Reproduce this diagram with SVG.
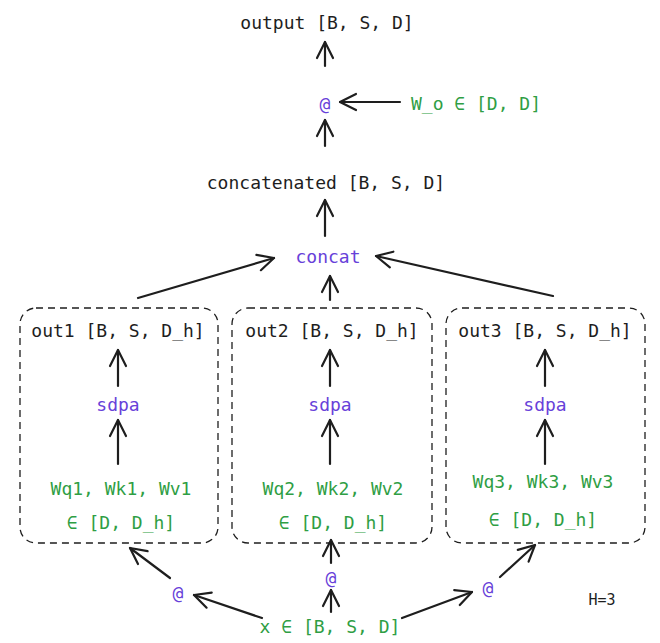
<svg xmlns="http://www.w3.org/2000/svg" width="660" height="643" viewBox="0 0 660 643">
<defs>
<marker id="ah" viewBox="0 0 20 20" refX="18" refY="10" markerWidth="20" markerHeight="20" markerUnits="userSpaceOnUse" orient="auto">
<path d="M2,2 L18,10 L2,18" fill="none" stroke="#1e1e1e" stroke-width="2.2" stroke-linecap="round" stroke-linejoin="round"/>
</marker>
<style>
text{font-family:"DejaVu Sans Mono","Liberation Mono",monospace;font-size:18px;text-anchor:middle;dominant-baseline:central}
.k{fill:#1e1e1e}.g{fill:#2f9e44}.p{fill:#6741d9}
.box{fill:none;stroke:#1e1e1e;stroke-width:1.3;stroke-dasharray:7 5}
.c line{stroke:#1e1e1e;stroke-width:2.2;stroke-linecap:round;marker-end:url(#ah)}
</style>
</defs>
<rect width="660" height="643" fill="#fff"/>
<g class="c">
<line x1="325" y1="66" x2="325" y2="42"/>
<line x1="400" y1="102" x2="340" y2="102"/>
<line x1="325" y1="146" x2="325" y2="120"/>
<line x1="325" y1="236" x2="325" y2="200"/>
<line x1="138" y1="298" x2="274" y2="258"/>
<line x1="330" y1="300" x2="330" y2="276"/>
<line x1="553" y1="296" x2="376" y2="256"/>
<line x1="118" y1="386" x2="118" y2="350"/>
<line x1="118" y1="464" x2="118" y2="420"/>
<line x1="330" y1="386" x2="330" y2="350"/>
<line x1="330" y1="464" x2="330" y2="420"/>
<line x1="545" y1="386" x2="545" y2="350"/>
<line x1="545" y1="464" x2="545" y2="420"/>
<line x1="262" y1="618" x2="194" y2="595"/>
<line x1="170" y1="578" x2="130" y2="548"/>
<line x1="331" y1="612" x2="331" y2="590"/>
<line x1="331" y1="563" x2="331" y2="540"/>
<line x1="402" y1="618" x2="472" y2="592"/>
<line x1="500" y1="577" x2="535" y2="545"/>
</g>
<g id="output"><text class="k" x="327" y="22">output [B, S, D]</text></g>
<g id="matmul_o"><text class="p" x="325" y="103">@</text></g>
<g id="wo"><text class="g" x="476" y="103">W_o ∈ [D, D]</text></g>
<g id="concatenated"><text class="k" x="326" y="182">concatenated [B, S, D]</text></g>
<g id="concat"><text class="p" x="328" y="256">concat</text></g>
<g id="head1"><rect class="box" x="20" y="308" width="198" height="235" rx="16"/>
<text class="k" x="118" y="330">out1 [B, S, D_h]</text>
<text class="p" x="118" y="404">sdpa</text>
<text class="g" x="121" y="488">Wq1, Wk1, Wv1</text>
<text class="g" x="121" y="522">∈ [D, D_h]</text></g>
<g id="head2"><rect class="box" x="232" y="308" width="200" height="235" rx="16"/>
<text class="k" x="332" y="330">out2 [B, S, D_h]</text>
<text class="p" x="330" y="404">sdpa</text>
<text class="g" x="333" y="488">Wq2, Wk2, Wv2</text>
<text class="g" x="333" y="522">∈ [D, D_h]</text></g>
<g id="head3"><rect class="box" x="446" y="308" width="199" height="235" rx="16"/>
<text class="k" x="545" y="330">out3 [B, S, D_h]</text>
<text class="p" x="545" y="404">sdpa</text>
<text class="g" x="543" y="481">Wq3, Wk3, Wv3</text>
<text class="g" x="543" y="519">∈ [D, D_h]</text></g>
<g id="at1"><text class="p" x="178" y="592">@</text></g>
<g id="at2"><text class="p" x="331" y="577">@</text></g>
<g id="at3"><text class="p" x="488" y="587">@</text></g>
<g id="x"><text class="g" x="330" y="626">x ∈ [B, S, D]</text></g>
<g id="h"><text class="k" x="602" y="600" style="font-size:15px">H=3</text></g>
</svg>
